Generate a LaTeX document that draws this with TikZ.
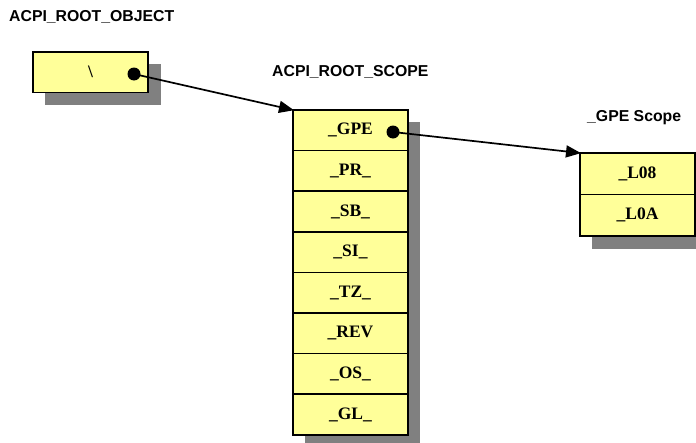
\documentclass[tikz,border=0pt]{standalone}
\usepackage{fontspec}
\setmainfont{Liberation Serif}
\setsansfont{Liberation Sans}
\usetikzlibrary{arrows.meta,positioning}

\definecolor{cellfill}{HTML}{FFFF99}
\definecolor{shade}{HTML}{808080}

\tikzset{
  cell/.style={draw=black, line width=1.7pt, fill=cellfill, rectangle,
    minimum width=115pt, minimum height=40.6pt, inner sep=0pt, outer sep=0pt,
    font=\fontsize{17.5}{20}\selectfont\bfseries},
  caption/.style={anchor=base west, inner sep=0pt,
    font=\fontsize{15.8}{18}\sffamily\bfseries},
  shadowbox/.style={fill=shade, draw=none},
  dot/.style={circle, fill=black, minimum size=13pt, inner sep=0pt},
  link/.style={line width=1.7pt, -{Triangle[length=15pt, width=12pt]}, shorten >=-1pt}
}

\begin{document}
\begin{tikzpicture}[x=1pt, y=-1pt]
\useasboundingbox (0,0) rectangle (696,442);

% captions
\node[caption] (lroot) at (9,21) {ACPI\_ROOT\_OBJECT};
\node[caption] (lscope) at (272,76) {ACPI\_ROOT\_SCOPE};
\node[caption] (lgpe) at (587,121) {\_GPE Scope};

% drop shadows
\fill[shadowbox] (45,64) rectangle (161,105);
\fill[shadowbox] (305,122) rectangle (420,450);
\fill[shadowbox] (592,165) rectangle (708,249);

% root object
\node[cell, anchor=north west] (root) at (33,52) {\textbackslash};
\node[dot] (rdot) at (134,74) {};

% root scope table
\node[cell, anchor=north west] (gpe) at (293,110) {\_GPE};
\node[cell, below=0pt of gpe] (pr) {\_PR\_};
\node[cell, below=0pt of pr] (sb) {\_SB\_};
\node[cell, below=0pt of sb] (si) {\_SI\_};
\node[cell, below=0pt of si] (tz) {\_TZ\_};
\node[cell, below=0pt of tz] (rev) {\_REV};
\node[cell, below=0pt of rev] (os) {\_OS\_};
\node[cell, below=0pt of os] (gl) {\_GL\_};
\node[dot] (gdot) at (393,132) {};

% _GPE scope table
\node[cell, anchor=north west, minimum height=41.5pt] (l08) at (580,153) {\_L08};
\node[cell, below=0pt of l08, minimum height=41.5pt] (l0a) {\_L0A};

% links
\draw[link] (rdot.center) -- (gpe.north west);
\draw[link] (gdot.center) -- (l08.north west);
\end{tikzpicture}
\end{document}
